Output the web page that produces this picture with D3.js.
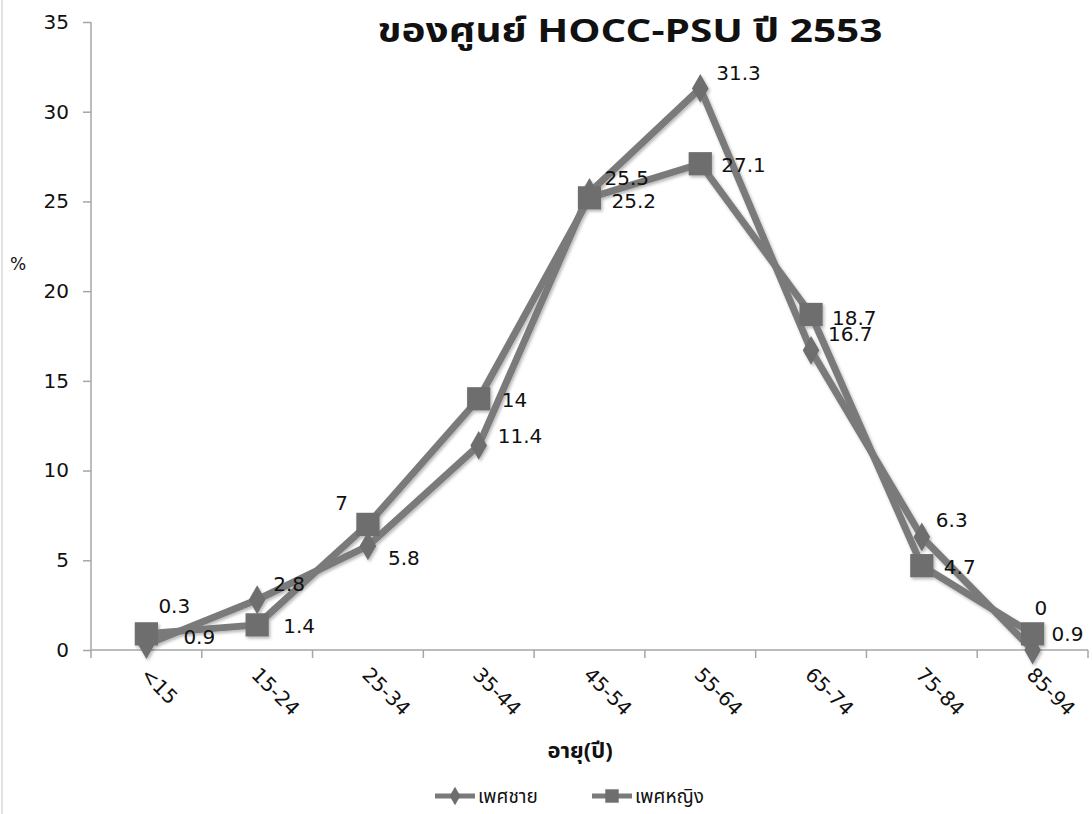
<!DOCTYPE html>
<html>
<head>
<meta charset="utf-8">
<script src="https://cdn.jsdelivr.net/npm/d3@7"></script>
<style>
  html, body { margin: 0; padding: 0; background: #fff; }
  svg { display: block; }
  text { font-family: "DejaVu Sans", Verdana, sans-serif; fill: #111; }
  .thai { font-family: "Noto Sans Thai", "Noto Sans", Tahoma, sans-serif; }
</style>
</head>
<body>
<svg id="chart" width="1092" height="814"></svg>
<script>
// Age groups and percentage of patients by sex
const ageGroups = ["<15", "15-24", "25-34", "35-44", "45-54", "55-64", "65-74", "75-84", "85-94"];
const maleValues = [0.3, 2.8, 5.8, 11.4, 25.5, 31.3, 16.7, 6.3, 0];
const femaleValues = [0.9, 1.4, 7, 14, 25.2, 27.1, 18.7, 4.7, 0.9];
const yTicks = [0, 5, 10, 15, 20, 25, 30, 35];
const seriesNames = ["เพศชาย", "เพศหญิง"];

// Label offsets (px) from each point, chosen so labels sit clear of the lines
const maleLabelOffsets = [[12, -32], [16, -9], [20, 19], [19, -2], [15, -7], [16, -8], [17, -9], [14, -10], [2, -35]];
const femaleLabelOffsets = [[37, 10], [26, 8], [-20, -14, "end"], [23, 8], [22, 10], [21, 8], [21, 11], [22, 8], [19, 7]];

const svg = d3.select("#chart");
const W = 1092, H = 814;
const m = { left: 91, right: 1088, top: 22, bottom: 650 };

const x = d3.scaleBand().domain(ageGroups).range([m.left, m.right]).padding(0);
const y = d3.scaleLinear().domain([0, 35]).range([m.bottom, m.top]);
const cx = d => x(d) + x.bandwidth() / 2;

// soft shadow used by lines and markers
const defs = svg.append("defs");
const f = defs.append("filter").attr("id", "soft").attr("x", "-20%").attr("y", "-20%").attr("width", "140%").attr("height", "140%");
f.append("feDropShadow").attr("dx", 1.5).attr("dy", 2).attr("stdDeviation", 1.8)
  .attr("flood-color", "#000").attr("flood-opacity", 0.28);

// outer frame edge on the left
svg.append("line").attr("x1", 2).attr("x2", 2).attr("y1", 0).attr("y2", H)
  .attr("stroke", "#d8d8d8").attr("stroke-width", 1.5);

// title (second line)
svg.append("text").attr("class", "thai")
  .attr("x", 630).attr("y", 42)
  .attr("text-anchor", "middle")
  .attr("font-size", 33).attr("font-weight", "bold")
  .attr("textLength", 505).attr("lengthAdjust", "spacingAndGlyphs")
  .text("ของศูนย์ HOCC-PSU ปี 2553");

const axisColor = "#a6a6a6";

// y axis
const yAxis = d3.axisLeft(y).tickValues(yTicks).tickSize(8).tickPadding(14);
const gy = svg.append("g").attr("transform", `translate(${m.left},0)`).call(yAxis);
gy.select(".domain").attr("stroke", axisColor).attr("stroke-width", 1.5).attr("d", `M0,${m.top}V${m.bottom}`);
gy.selectAll(".tick line").attr("stroke", axisColor).attr("stroke-width", 1.5);
gy.selectAll(".tick text").attr("font-size", 20).attr("fill", "#111")
  .style("font-family", '"DejaVu Sans", Verdana, sans-serif');

// x axis: ticks at category boundaries
const gx = svg.append("g");
gx.append("line").attr("x1", m.left).attr("x2", m.right).attr("y1", m.bottom).attr("y2", m.bottom)
  .attr("stroke", axisColor).attr("stroke-width", 1.5);
const bounds = ageGroups.map(d => x(d)).concat([m.right]);
gx.selectAll("line.tk").data(bounds).join("line").attr("class", "tk")
  .attr("x1", d => d).attr("x2", d => d).attr("y1", m.bottom).attr("y2", m.bottom + 8)
  .attr("stroke", axisColor).attr("stroke-width", 1.5);
gx.selectAll("text.xl").data(ageGroups).join("text").attr("class", "xl")
  .attr("transform", d => `translate(${cx(d) - 7},${m.bottom + 26}) rotate(45)`)
  .attr("font-size", 20)
  .text(d => d);

// axis titles
svg.append("text").attr("class", "thai").attr("x", 580).attr("y", 758)
  .attr("text-anchor", "middle").attr("font-size", 22).attr("font-weight", "bold")
  .text("อายุ(ปี)");
svg.append("text").attr("x", 18).attr("y", 270).attr("text-anchor", "middle")
  .attr("font-size", 17).text("%");

// series
const lineColor = "#7a7a7a";
const markerColor = "#6e6e6e";
const line = d3.line().x((d, i) => cx(ageGroups[i])).y(d => y(d));
const diamond = d3.symbol().type(d3.symbolDiamond).size(240);
const square = d3.symbol().type(d3.symbolSquare).size(540);

const series = [
  { name: seriesNames[0], values: maleValues, sym: diamond, offs: maleLabelOffsets },
  { name: seriesNames[1], values: femaleValues, sym: square, offs: femaleLabelOffsets }
];

const plot = svg.append("g").attr("filter", "url(#soft)");
series.forEach(s => {
  plot.append("path").datum(s.values)
    .attr("d", line).attr("fill", "none")
    .attr("stroke", lineColor).attr("stroke-width", 7).attr("stroke-linejoin", "round");
});
series.forEach(s => {
  plot.selectAll(null).data(s.values).join("path")
    .attr("transform", (d, i) => `translate(${cx(ageGroups[i])},${y(d)})`)
    .attr("d", s.sym).attr("fill", markerColor);
});

// data labels
series.forEach(s => {
  svg.selectAll(null).data(s.values).join("text")
    .attr("x", (d, i) => cx(ageGroups[i]) + s.offs[i][0])
    .attr("y", (d, i) => y(d) + s.offs[i][1])
    .attr("text-anchor", (d, i) => s.offs[i][2] || "start")
    .attr("font-size", 20)
    .text(d => d);
});

// legend
const lg = svg.append("g").attr("transform", "translate(0,796)");
const items = [
  { name: seriesNames[0], sym: d3.symbol().type(d3.symbolDiamond).size(100), x: 435 },
  { name: seriesNames[1], sym: d3.symbol().type(d3.symbolSquare).size(180), x: 592 }
];
items.forEach(it => {
  lg.append("line").attr("x1", it.x).attr("x2", it.x + 40).attr("y1", 0).attr("y2", 0)
    .attr("stroke", lineColor).attr("stroke-width", 5);
  lg.append("path").attr("transform", `translate(${it.x + 20},0)`).attr("d", it.sym).attr("fill", markerColor);
  lg.append("text").attr("class", "thai").attr("x", it.x + 43).attr("y", 7)
    .attr("font-size", 19).text(it.name);
});
</script>
</body>
</html>
